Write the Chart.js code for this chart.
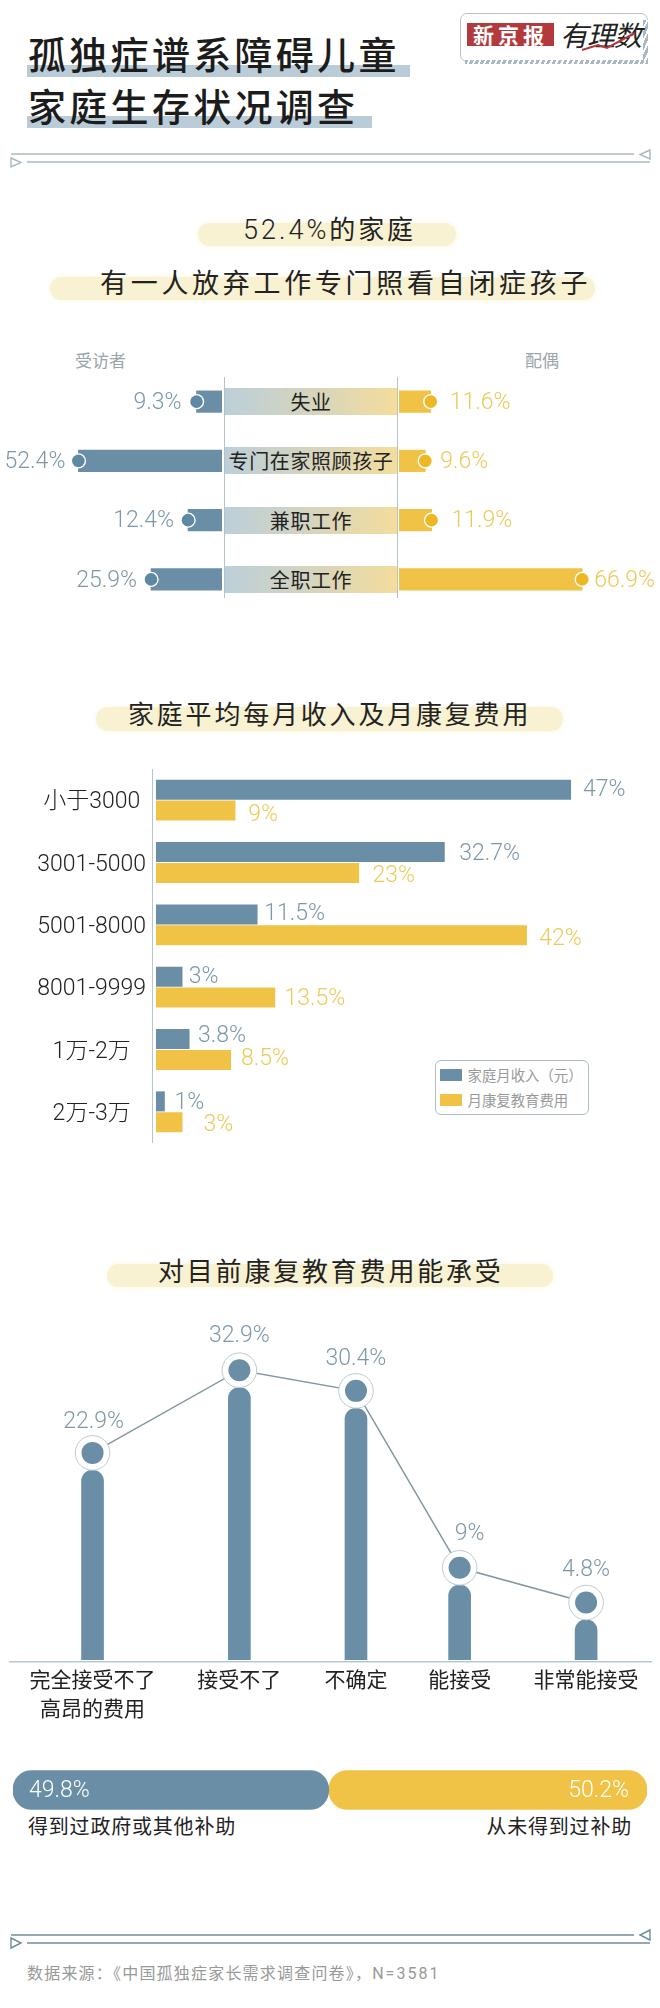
<!DOCTYPE html>
<html lang="zh">
<head>
<meta charset="utf-8">
<title>孤独症谱系障碍儿童家庭生存状况调查</title>
<script src="https://cdn.jsdelivr.net/npm/chart.js@4"></script>
<style>
  html, body { margin: 0; padding: 0; background: #fff; }
  #page { position: relative; width: 660px; height: 2008px; overflow: hidden; background: #fff;
          font-family: "Noto Sans CJK SC", sans-serif; color: #222; }
  #page > * { position: absolute; }
  .t { white-space: nowrap; text-align: center; }
  .num { font-family: Roboto, "Noto Sans CJK SC", sans-serif; font-weight: 300; }
  .mark { background: #b9ccd7; }
  .pill { background: #f8f2d3; border-radius: 14px; box-shadow: 0 0 5px 2px #fcfaee; }
  .head { font-size: 26px; letter-spacing: 2.8px; line-height: 32px; height: 32px; }
  .title { font-size: 38px; letter-spacing: 3.3px; line-height: 44px; height: 44px; font-weight: 500; color: #1c1c1c; }
  .band { left: 225px; width: 172px; height: 27px; line-height: 27px; font-size: 20px; letter-spacing: .6px; text-align: center;
          background: linear-gradient(90deg, #bccfd9, #d8d5bb 55%, #f4dd9c); }
  .who { font-size: 17px; color: #9aa5ab; line-height: 20px; }
  .swatch { width: 22px; height: 12px; }
  .lg { font-size: 14.4px; color: #9a9a9a; line-height: 18px; left: 467.5px; }
  canvas { display: block; }
</style>
</head>
<body>
<div id="page">
  <div class="mark" style="left:27px;top:65px;width:383px;height:12px"></div>
  <div class="mark" style="left:27px;top:116px;width:345px;height:12px"></div>
  <div class="t title" style="left:28px;top:31px">孤独症谱系障碍儿童</div>
  <div class="t title" style="left:28px;top:83px">家庭生存状况调查</div>

  <!-- logo -->
  <div style="left:460px;top:13px;width:186px;height:47px;border:1px solid #b7c1c6;border-radius:7px"></div>
  <div style="left:465px;top:60px;width:183px;height:4px;background:repeating-linear-gradient(115deg,#a9b9c2 0 3px,#fff 3px 5px)"></div>
  <div style="left:643px;top:20px;width:5px;height:42px;background:repeating-linear-gradient(115deg,#a9b9c2 0 3px,#fff 3px 5px)"></div>
  <div class="t" style="left:467px;top:23px;width:87px;height:23px;line-height:23px;background:#b33a3c;color:#fff;font-weight:700;font-size:21px;letter-spacing:4px">新京报</div>
  <div class="t" style="left:560px;top:14px;font-size:28px;line-height:40px;font-style:italic;letter-spacing:-1px;color:#222">有理数</div>
  <svg style="left:0;top:0" width="660" height="70"><polyline points="582,50 598,45 607,48 635,33" fill="none" stroke="#b33a3c" stroke-width="2"/></svg>

  <!-- 分隔线 -->
  <svg style="left:0;top:145px" width="660" height="26" fill="#fff" stroke="#a9b8c0" stroke-width="1.4">
    <line x1="11" y1="9" x2="634" y2="9"/><line x1="27" y1="17" x2="650" y2="17"/>
    <path d="M650 5 L640 9.5 L650 14 Z"/><path d="M11 13 L21 17.5 L11 22 Z"/>
  </svg>

  <div class="pill" style="left:198px;top:223px;width:258px;height:23px"></div>
  <div class="t head" style="left:243px;top:212px;font-size:26px"><span class="num" style="font-size:27px;letter-spacing:3px">52.4%</span>的家庭</div>
  <div class="pill" style="left:50px;top:277px;width:545px;height:23px"></div>
  <div class="t" style="left:100px;top:266px;font-size:27px;letter-spacing:3.7px;line-height:32px">有一人放弃工作专门照看自闭症孩子</div>

  <div class="t who" style="left:75px;top:350px;width:50px">受访者</div>
  <div class="t who" style="left:517px;top:350px;width:50px">配偶</div>
  <div style="left:224px;top:377px;width:1px;height:221px;background:#b3c2cb"></div>
  <div style="left:397px;top:377px;width:1px;height:221px;background:#b3c2cb"></div>
  <div id="bands" style="left:0;top:0"></div>
  <canvas id="cLeft" style="left:0;top:372px" width="222" height="237"></canvas>
  <canvas id="cRight" style="left:399px;top:372px" width="261" height="237"></canvas>

  <div class="pill" style="left:96px;top:707px;width:467px;height:24px"></div>
  <div class="t head" style="left:128px;top:697px">家庭平均每月收入及月康复费用</div>
  <canvas id="cIncome" style="left:0;top:769px" width="660" height="374"></canvas>
  <div style="left:434.5px;top:1060px;width:152px;height:53px;border:1px solid #aebcc5;border-radius:6px;background:#fff"></div>
  <div class="swatch" style="left:439.5px;top:1069px;background:#6a8ea6"></div>
  <div class="swatch" style="left:439.5px;top:1094px;background:#f0c245"></div>
  <div class="t lg" style="top:1066px">家庭月收入（元）</div>
  <div class="t lg" style="top:1091px">月康复教育费用</div>

  <div class="pill" style="left:107px;top:1264px;width:446px;height:23px"></div>
  <div class="t head" style="left:158px;top:1254px">对目前康复教育费用能承受</div>
  <canvas id="cAfford" style="left:9px;top:1300px" width="643" height="432"></canvas>

  <canvas id="cSubsidy" style="left:13px;top:1770px" width="634" height="40"></canvas>
  <div class="t" style="left:28px;top:1811px;font-size:20px;letter-spacing:.8px;line-height:30px" id="subLeft"></div>
  <div class="t" style="right:28px;top:1811px;font-size:20px;letter-spacing:.8px;line-height:30px" id="subRight"></div>

  <svg style="left:0;top:1926px" width="660" height="26" fill="#fff" stroke="#6f8c9c" stroke-width="1.4">
    <line x1="11" y1="9" x2="634" y2="9"/><line x1="27" y1="17" x2="650" y2="17"/>
    <path d="M650 4 L640 9 L650 14 Z"/><path d="M11 12 L21 17 L11 22 Z"/>
  </svg>
  <div class="t" style="left:27px;top:1960px;font-size:16px;letter-spacing:1.2px;line-height:24px;color:#999">数据来源：《中国孤独症家长需求调查问卷》，<span class="num" style="font-weight:400;letter-spacing:2px">N=3581</span></div>
</div>

<script>
/* ── DADOS ── */
const rowLabels = ["失业", "专门在家照顾孩子", "兼职工作", "全职工作"];
const respondentShare = [9.3, 52.4, 12.4, 25.9];
const spouseShare = [11.6, 9.6, 11.9, 66.9];

const incomeBands = ["小于3000", "3001-5000", "5001-8000", "8001-9999", "1万-2万", "2万-3万"];
const incomeShare = [47, 32.7, 11.5, 3, 3.8, 1];
const rehabCostShare = [9, 23, 42, 13.5, 8.5, 3];

const affordLabels = [["完全接受不了", "高昂的费用"], "接受不了", "不确定", "能接受", "非常能接受"];
const affordShare = [22.9, 32.9, 30.4, 9, 4.8];
const affordSlots = [0, 1.19, 2.135, 2.975, 4];

const subsidyLabels = ["得到过政府或其他补助", "从未得到过补助"];
const subsidyShare = [49.8, 50.2];

/* ── CORES ── */
const BLUE = "#6a8ea6", YELLOW = "#f0c245";
const BLUE_TXT = "#7d98a9", YELLOW_TXT = "#ecca58";
const NUM_FONT = '300 23px Roboto, "Noto Sans CJK SC", sans-serif';
const TXT_DROP = 1.5; // middle da fonte fica alto demais

const base = { responsive: false, animation: false, events: [] };
const quiet = { legend: { display: false }, tooltip: { enabled: false } };

/* ── FAIXAS CENTRAIS ── */
document.getElementById("bands").innerHTML = rowLabels.map((txt, i) =>
  `<div class="band" style="position:absolute;top:${388 + i * 59.3}px">${txt}</div>`).join("");
document.getElementById("subLeft").textContent = subsidyLabels[0];
document.getElementById("subRight").textContent = subsidyLabels[1];

/* bolinha na ponta da barra + valor */
const endDots = {
  id: "endDots",
  afterDatasetsDraw(chart, args, opts) {
    const { ctx } = chart;
    ctx.save();
    chart.getDatasetMeta(0).data.forEach((bar, i) => {
      ctx.fillStyle = "#fff";
      ctx.beginPath(); ctx.arc(bar.x, bar.y, 7.7, 0, Math.PI * 2); ctx.fill();
      ctx.fillStyle = opts.dot;
      ctx.beginPath(); ctx.arc(bar.x, bar.y, 6.3, 0, Math.PI * 2); ctx.fill();
      ctx.fillStyle = opts.text;
      ctx.font = NUM_FONT;
      ctx.textBaseline = "middle";
      ctx.textAlign = opts.side < 0 ? "right" : "left";
      ctx.fillText(chart.data.datasets[0].data[i] + "%", bar.x + opts.side * opts.gaps[i], bar.y + TXT_DROP);
    });
    ctx.restore();
  }
};

function chartLado(id, valores, cor, max, reverse, pluginOpts) {
  new Chart(document.getElementById(id), {
    type: "bar",
    data: { labels: rowLabels, datasets: [{ data: valores, backgroundColor: cor, barThickness: 21.5 }] },
    options: {
      ...base,
      indexAxis: "y",
      plugins: { ...quiet, endDots: pluginOpts },
      scales: {
        x: { display: false, min: 0, max: max, reverse: reverse },
        y: { display: false }
      }
    },
    plugins: [endDots]
  });
}
chartLado("cLeft", respondentShare, BLUE, 81, true,
  { dot: "#5e88a3", text: BLUE_TXT, side: -1, gaps: [15, 13, 14, 14] });
chartLado("cRight", spouseShare, YELLOW, 95.3, false,
  { dot: "#edb726", text: YELLOW_TXT, side: 1, gaps: [19, 15, 20, 12] });

/* ── RENDA x CUSTO ── */
const incomeNudge = [[12, -1], [14.4, 0.7], [6.8, -1.7], [6.3, -1.3], [8.5, -4], [9.7, 0]];
const costNudge = [[12.7, 2.7], [13.5, 2], [12.3, 2], [9.3, 0], [10, -1.7], [21, 1.7]];
const incomeLabels = {
  id: "incomeLabels",
  afterDatasetsDraw(chart) {
    const { ctx } = chart;
    ctx.save();
    ctx.font = NUM_FONT;
    ctx.textBaseline = "middle";
    ctx.textAlign = "left";
    [[incomeNudge, BLUE_TXT], [costNudge, YELLOW_TXT]].forEach(([nudge, cor], d) => {
      ctx.fillStyle = cor;
      chart.getDatasetMeta(d).data.forEach((bar, i) => {
        ctx.fillText(chart.data.datasets[d].data[i] + "%", bar.x + nudge[i][0], bar.y + nudge[i][1] + TXT_DROP);
      });
    });
    ctx.restore();
  }
};
new Chart(document.getElementById("cIncome"), {
  type: "bar",
  data: {
    labels: incomeBands,
    datasets: [
      { label: "家庭月收入（元）", data: incomeShare, backgroundColor: BLUE },
      { label: "月康复教育费用", data: rehabCostShare, backgroundColor: YELLOW }
    ]
  },
  options: {
    ...base,
    indexAxis: "y",
    categoryPercentage: 0.669,
    barPercentage: 0.96,
    plugins: quiet,
    scales: {
      x: { display: false, min: -0.45, max: 57.07 },
      y: {
        afterFit(scale) { scale.width = 152; scale.paddingTop = 0; scale.paddingBottom = 0; },
        grid: { display: false, drawTicks: false },
        border: { color: "#b5c5cf" },
        ticks: { color: "#222", padding: 6, crossAlign: "center", labelOffset: 2.5,
                 font: { family: 'Roboto, "Noto Sans CJK SC", sans-serif', size: 23, weight: "300" } }
      }
    }
  },
  plugins: [incomeLabels]
});

/* ── CAPACIDADE DE PAGAR ── */
const affordNudge = [[1, -31.7], [0, -35.7], [0, -33], [10, -34.7], [0, -34]];
const affordRings = {
  id: "affordRings",
  afterDatasetsDraw(chart) {
    const { ctx } = chart;
    ctx.save();
    chart.getDatasetMeta(1).data.forEach((pt, i) => {
      ctx.beginPath(); ctx.arc(pt.x, pt.y, 17.3, 0, Math.PI * 2);
      ctx.fillStyle = "#fff"; ctx.fill();
      ctx.strokeStyle = "#bccad3"; ctx.lineWidth = 1; ctx.stroke();
      ctx.beginPath(); ctx.arc(pt.x, pt.y, 11, 0, Math.PI * 2);
      ctx.fillStyle = BLUE; ctx.fill();
      ctx.font = NUM_FONT;
      ctx.fillStyle = BLUE_TXT;
      ctx.textAlign = "center";
      ctx.textBaseline = "middle";
      ctx.fillText(affordShare[i] + "%", pt.x + affordNudge[i][0], pt.y + affordNudge[i][1] + TXT_DROP);
    });
    ctx.restore();
  }
};
const affordPoints = affordSlots.map((x, i) => ({ x: x, y: affordShare[i] }));
new Chart(document.getElementById("cAfford"), {
  type: "bar",
  data: {
    datasets: [
      { data: affordPoints, backgroundColor: BLUE, barThickness: 22, order: 1, yAxisID: "y",
        borderSkipped: "bottom", borderRadius: { topLeft: 11, topRight: 11 } },
      { type: "line", data: affordPoints, borderColor: "#84979f", borderWidth: 1.5, pointRadius: 0,
        tension: 0, order: 0, yAxisID: "y2" }
    ]
  },
  options: {
    ...base,
    plugins: quiet,
    scales: {
      x: {
        type: "linear", offset: false, min: -0.677, max: 4.534,
        afterFit(scale) { scale.height = 70; },
        afterBuildTicks(scale) { scale.ticks = affordSlots.map(value => ({ value })); },
        grid: { display: false, drawTicks: false },
        border: { color: "#b5c9d3", width: 1.5 },
        ticks: {
          autoSkip: false, maxRotation: 0, padding: 2, color: "#222",
          font: { family: '"Noto Sans CJK SC", sans-serif', size: 21, lineHeight: 1.4 },
          callback: (value, i) => affordLabels[i]
        }
      },
      y: { display: false, min: -0.29, max: 43.49 },
      y2: { display: false, min: -2.39, max: 41.39 }
    }
  },
  plugins: [affordRings]
});

/* ── SUBSÍDIO ── */
const subsidyValues = {
  id: "subsidyValues",
  afterDatasetsDraw(chart) {
    const { ctx } = chart;
    const azul = chart.getDatasetMeta(0).data[0];
    const ama = chart.getDatasetMeta(1).data[0];
    ctx.save();
    ctx.font = NUM_FONT;
    ctx.fillStyle = "#fff";
    ctx.textBaseline = "middle";
    ctx.textAlign = "left";
    ctx.fillText(subsidyShare[0] + "%", azul.base + 16, azul.y + TXT_DROP);
    ctx.textAlign = "right";
    ctx.fillText(subsidyShare[1] + "%", ama.x - 18, ama.y + TXT_DROP);
    ctx.restore();
  }
};
const fullRound = { topLeft: 19, topRight: 19, bottomLeft: 19, bottomRight: 19 };
new Chart(document.getElementById("cSubsidy"), {
  type: "bar",
  data: {
    labels: [""],
    datasets: [
      { data: [subsidyShare[0]], backgroundColor: BLUE, borderRadius: fullRound, borderSkipped: false, barThickness: 39 },
      { data: [subsidyShare[1]], backgroundColor: YELLOW, borderRadius: fullRound, borderSkipped: false, barThickness: 39 }
    ]
  },
  options: {
    ...base,
    indexAxis: "y",
    plugins: quiet,
    scales: {
      x: { display: false, stacked: true, min: 0, max: 100 },
      y: { display: false, stacked: true }
    }
  },
  plugins: [subsidyValues]
});
</script>
</body>
</html>
